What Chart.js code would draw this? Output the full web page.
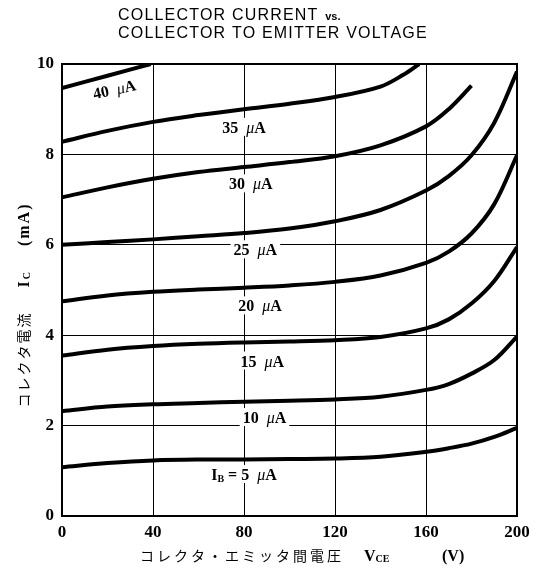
<!DOCTYPE html>
<html>
<head>
<meta charset="utf-8">
<script src="https://cdn.jsdelivr.net/npm/chart.js@4.4.1/dist/chart.umd.min.js"></script>
<style>
  html, body { margin: 0; padding: 0; background: #fff; }
  #wrap { width: 542px; height: 577px; position: relative; }
</style>
</head>
<body>
<div id="wrap"><canvas id="ic-vce"></canvas></div>
<script>
// values (Ic in mA vs Vce in V)
const voltages = [0, 20, 40, 60, 80, 100, 120, 140, 160, 170, 180, 190, 200];
const ic5  = [1.08, 1.17, 1.23, 1.25, 1.25, 1.26, 1.27, 1.31, 1.42, 1.50, 1.60, 1.75, 1.95];
const ic10 = [2.32, 2.42, 2.47, 2.50, 2.53, 2.55, 2.58, 2.64, 2.79, 2.92, 3.15, 3.45, 3.97];
const ic15 = [3.55, 3.68, 3.76, 3.81, 3.84, 3.86, 3.89, 3.96, 4.15, 4.35, 4.70, 5.20, 5.95];
const ic20 = [4.75, 4.88, 4.96, 5.01, 5.05, 5.10, 5.18, 5.32, 5.60, 5.85, 6.25, 6.90, 7.98];
const ic25 = [6.00, 6.06, 6.12, 6.19, 6.26, 6.36, 6.52, 6.77, 7.20, 7.52, 7.98, 8.70, 9.83];
const volt30 = [0, 20, 40, 60, 80, 100, 120, 140, 160, 170, 180];
const ic30 = [7.05, 7.27, 7.46, 7.61, 7.72, 7.83, 7.96, 8.20, 8.62, 9.00, 9.52];
const volt35 = [0, 20, 40, 60, 80, 100, 120, 140, 150, 157];
const ic35 = [8.28, 8.52, 8.72, 8.87, 9.00, 9.12, 9.27, 9.50, 9.76, 10.0];
const volt40 = [0, 20, 39];
const ic40 = [9.47, 9.74, 10.0];

const baseCurrents = [5, 10, 15, 20, 25, 30, 35, 40];
// where each curve name is printed (data coordinates, text centre)
const labelV = [80, 89, 88, 87, 85, 83, 80, 23];
const labelI = [0.93, 2.19, 3.44, 4.66, 5.90, 7.36, 8.61, 9.45];

const xTicks = [0, 40, 80, 120, 160, 200];
const yTicks = [0, 2, 4, 6, 8, 10];

const pts = (xs, ys) => xs.map((v, i) => ({ x: v, y: ys[i] }));

const series = [
  pts(voltages, ic5), pts(voltages, ic10), pts(voltages, ic15),
  pts(voltages, ic20), pts(voltages, ic25), pts(volt30, ic30),
  pts(volt35, ic35), pts(volt40, ic40)
];

const SERIF = '"Liberation Serif", "DejaVu Serif", serif';
const SANS = '"Liberation Sans", Arial, sans-serif';
const JP = '"Noto Sans CJK JP", sans-serif';

// draw a run of [text, font, dy] pieces starting at x (left), baseline y
function drawRun(ctx, parts, x, y) {
  parts.forEach(function(p) {
    ctx.font = p[1];
    ctx.fillText(p[0], x, y + (p[2] || 0));
    x += ctx.measureText(p[0]).width;
  });
  return x;
}

function runWidth(ctx, parts) {
  let w = 0;
  parts.forEach(function(p) { ctx.font = p[1]; w += ctx.measureText(p[0]).width; });
  return w;
}

const paperPlugin = {
  id: 'paper',
  afterDatasetsDraw(chart) {
    const { ctx, chartArea: a, scales } = chart;
    ctx.save();
    ctx.strokeStyle = '#000';
    ctx.lineWidth = 2;
    ctx.strokeRect(a.left, a.top, a.right - a.left, a.bottom - a.top);

    // curve names, with a white patch behind them like the print
    ctx.textBaseline = 'alphabetic';
    ctx.fillStyle = '#000';
    baseCurrents.forEach(function(ib, i) {
      const num = 'bold 16px ' + SERIF;
      const mu = 'italic 16px ' + SERIF;
      let parts = [[String(ib), num], ['  ', num], ['μ', mu], ['A', num]];
      if (i === 0) {
        parts = [['I', num], ['B', 'bold 10px ' + SERIF, 2], [' = ', num]].concat(parts);
      }
      const w = runWidth(ctx, parts);
      const cx = scales.x.getPixelForValue(labelV[i]);
      const cy = scales.y.getPixelForValue(labelI[i]);
      ctx.save();
      ctx.translate(cx, cy);
      if (ib === 40) ctx.rotate(-12 * Math.PI / 180);
      ctx.fillStyle = '#fff';
      ctx.fillRect(-w / 2 - 3, -9, w + 6, 18);
      ctx.fillStyle = '#000';
      drawRun(ctx, parts, -w / 2, 6);
      ctx.restore();
    });
    ctx.restore();
  },
  afterDraw(chart) {
    const ctx = chart.ctx;
    ctx.save();
    ctx.fillStyle = '#000';
    ctx.textBaseline = 'alphabetic';

    // title, two lines, spread to the printed width
    ctx.letterSpacing = '1.2px';
    const x0 = drawRun(ctx, [['COLLECTOR CURRENT ', '500 16px ' + SANS]], 118, 20);
    ctx.letterSpacing = '0px';
    drawRun(ctx, [['vs.', 'bold 11px ' + SANS]], x0 + 1, 20);
    ctx.letterSpacing = '1.2px';
    drawRun(ctx, [['COLLECTOR TO EMITTER VOLTAGE', '500 16px ' + SANS]], 118, 38);
    ctx.letterSpacing = '0px';

    // x axis title
    ctx.letterSpacing = '3px';
    drawRun(ctx, [['コレクタ・エミッタ間電圧', '14px ' + JP]], 140, 561);
    ctx.letterSpacing = '0px';
    drawRun(ctx, [['V', 'bold 16px ' + SERIF], ['CE', 'bold 10px ' + SERIF, 1]], 364, 561);
    drawRun(ctx, [['(V)', 'bold 16px ' + SERIF]], 442, 561);

    // y axis title, reading upwards
    ctx.translate(24, 305);
    ctx.rotate(-Math.PI / 2);
    const yParts = [['コレクタ電流', '14px ' + JP], ['    I', 'bold 16px ' + SERIF],
                    ['C', 'bold 10px ' + SERIF, 1], ['    (mA)', 'bold 16px ' + SERIF]];
    ctx.letterSpacing = '2px';
    const yw = runWidth(ctx, yParts);
    drawRun(ctx, yParts, -yw / 2, 5);
    ctx.restore();
  }
};

const ctx = document.getElementById('ic-vce');
const chart = new Chart(ctx, {
  type: 'line',
  data: {
    datasets: series.map(function(d, i) {
      return {
        label: baseCurrents[i] + ' uA',
        data: d,
        borderColor: '#000',
        borderWidth: 4,
        pointRadius: 0,
        fill: false,
        tension: 0.35
      };
    })
  },
  options: {
    responsive: true,
    maintainAspectRatio: false,
    animation: false,
    layout: { padding: { top: 64, right: 25, left: 0, bottom: 0 } },
    plugins: { legend: { display: false }, tooltip: { enabled: false }, title: { display: false } },
    scales: {
      x: {
        type: 'linear', min: 0, max: 200,
        afterFit(scale) { scale.height = 61; },
        afterBuildTicks(scale) { scale.ticks = xTicks.map(v => ({ value: v })); },
        ticks: { color: '#000', padding: 6, font: { family: SERIF, size: 17, weight: 'bold' }, maxRotation: 0 },
        grid: { color: '#000', lineWidth: 1, drawTicks: false },
        border: { display: true, color: '#000', width: 2 }
      },
      y: {
        type: 'linear', min: 0, max: 10,
        afterFit(scale) { scale.width = 62; },
        afterBuildTicks(scale) { scale.ticks = yTicks.map(v => ({ value: v })); },
        ticks: { color: '#000', padding: 8, font: { family: SERIF, size: 17, weight: 'bold' } },
        grid: { color: '#000', lineWidth: 1, drawTicks: false },
        border: { display: true, color: '#000', width: 2 }
      }
    }
  },
  plugins: [paperPlugin]
});
</script>
</body>
</html>
